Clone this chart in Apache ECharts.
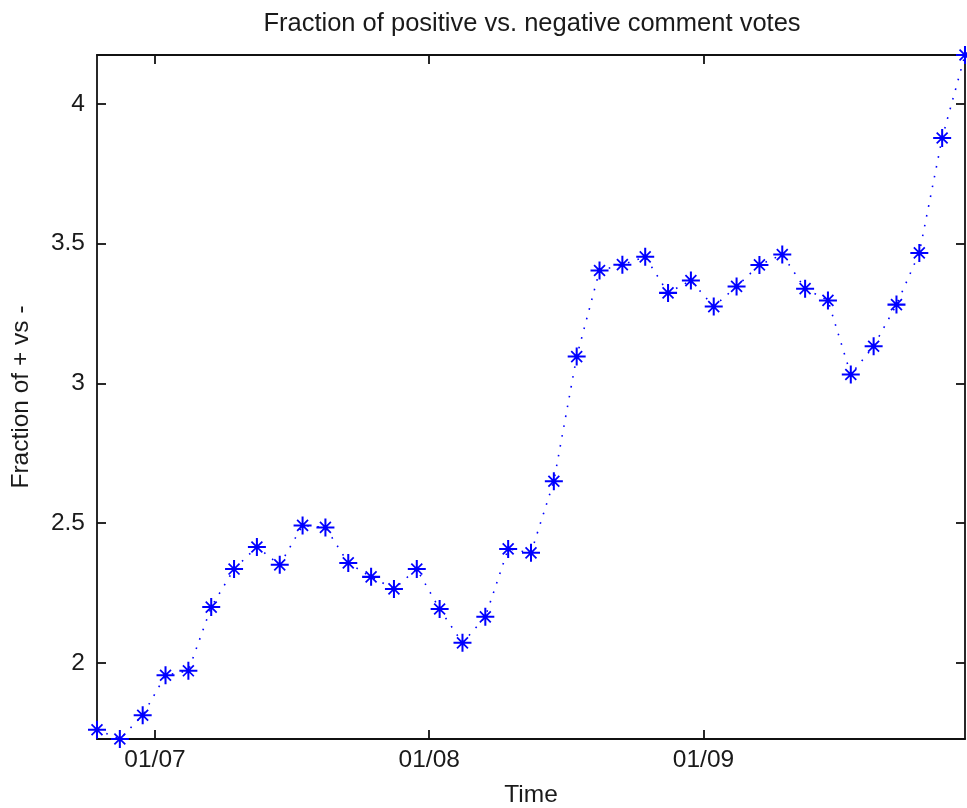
<!DOCTYPE html>
<html>
<head>
<meta charset="utf-8">
<script src="https://cdn.jsdelivr.net/npm/echarts@6/dist/echarts.min.js"></script>
<style>html,body{margin:0;padding:0;background:#fff}#c{width:967px;height:808px}</style>
</head>
<body>
<div id="c"></div>
<script>
// ---- data ----
const sampleTimes = [
  '2009-06-24T10:42', '2009-06-27T00:40', '2009-06-29T14:38', '2009-07-02T04:36', '2009-07-04T18:35',
  '2009-07-07T08:33', '2009-07-09T22:31', '2009-07-12T12:29', '2009-07-15T02:27', '2009-07-17T16:25',
  '2009-07-20T06:23', '2009-07-22T20:21', '2009-07-25T10:19', '2009-07-28T00:17', '2009-07-30T14:15',
  '2009-08-02T04:13', '2009-08-04T18:12', '2009-08-07T08:10', '2009-08-09T22:08', '2009-08-12T12:06',
  '2009-08-15T02:04', '2009-08-17T16:02', '2009-08-20T06:00', '2009-08-22T19:58', '2009-08-25T09:56',
  '2009-08-27T23:54', '2009-08-30T13:52', '2009-09-02T03:50', '2009-09-04T17:48', '2009-09-07T07:47',
  '2009-09-09T21:45', '2009-09-12T11:43', '2009-09-15T01:41', '2009-09-17T15:39', '2009-09-20T05:37',
  '2009-09-22T19:35', '2009-09-25T09:33', '2009-09-27T23:31', '2009-09-30T13:29'
];
const fractionValues = [
  1.761, 1.728, 1.813, 1.956, 1.972,
  2.200, 2.336, 2.415, 2.351, 2.492,
  2.485, 2.358, 2.308, 2.265, 2.336,
  2.193, 2.072, 2.165, 2.408, 2.394,
  2.650, 3.096, 3.404, 3.425, 3.453,
  3.324, 3.368, 3.275, 3.347, 3.424,
  3.461, 3.339, 3.297, 3.032, 3.133,
  3.282, 3.467, 3.878, 4.175
];
const xTickDates = ['2009-07-01T00:00', '2009-08-01T00:00', '2009-09-01T00:00'];
const yTickValues = [2, 2.5, 3, 3.5, 4];

const titleText = 'Fraction of positive vs. negative comment votes';
const xName = 'Time';
const yName = 'Fraction of + vs -';

// ---- build ----
const toMs = s => Date.parse(s + ':00Z');
const seriesData = sampleTimes.map((t, i) => [toMs(t), fractionValues[i]]);
const xTicks = xTickDates.map(toMs);
const xMin = Math.min.apply(null, seriesData.map(d => d[0]));
const xMax = Math.max.apply(null, seriesData.map(d => d[0]));
const yMin = Math.min.apply(null, fractionValues);
const yMax = Math.max.apply(null, fractionValues);
const pad = n => (n < 10 ? '0' : '') + n;
const fmtDate = v => { const d = new Date(v); return pad(d.getUTCDate()) + '/' + pad(d.getUTCMonth() + 1); };

const FONT = 'Liberation Sans';
const TXT = '#1a1a1a';
const asterisk = 'path://M0 7.1L16 7.1L16 8.9L0 8.9Z M7.1 0L8.9 0L8.9 16L7.1 16Z ' +
  'M2.6 3.7L3.7 2.6L13.4 12.3L12.3 13.4Z M12.3 2.6L13.4 3.7L3.7 13.4L2.6 12.3Z';

const axisLine = { show: true, lineStyle: { color: '#111', width: 1.8 } };
const tickStyle = { color: '#111', width: 1.8 };

const chart = echarts.init(document.getElementById('c'), null, { renderer: 'canvas' });
chart.setOption({
  animation: false,
  backgroundColor: '#fff',
  title: {
    text: titleText,
    left: 527, textAlign: 'center', top: 6,
    textStyle: { fontFamily: FONT, fontSize: 25.5, fontWeight: 'normal', color: TXT }
  },
  grid: { left: 97, right: 2, top: 55, bottom: 69, containLabel: false, outerBoundsMode: 'none' },
  xAxis: [{
    type: 'value', min: xMin, max: xMax, position: 'bottom',
    name: xName, nameLocation: 'middle', nameGap: 44,
    nameTextStyle: { fontFamily: FONT, fontSize: 24.5, color: TXT },
    axisLine: axisLine,
    axisTick: { show: true, inside: true, length: 9, lineStyle: tickStyle, customValues: xTicks },
    axisLabel: { show: true, margin: 9, customValues: xTicks, formatter: fmtDate,
      fontFamily: FONT, fontSize: 24.5, color: TXT },
    splitLine: { show: false }
  }, {
    type: 'value', min: xMin, max: xMax, position: 'top',
    axisLine: axisLine,
    axisTick: { show: true, inside: true, length: 9, lineStyle: tickStyle, customValues: xTicks },
    axisLabel: { show: false },
    splitLine: { show: false }
  }],
  yAxis: [{
    type: 'value', min: yMin, max: yMax, position: 'left',
    name: yName, nameLocation: 'middle', nameGap: 63, nameRotate: 90,
    nameTextStyle: { fontFamily: FONT, fontSize: 24.5, color: TXT },
    axisLine: axisLine,
    axisTick: { show: true, inside: true, length: 9, lineStyle: tickStyle, customValues: yTickValues },
    axisLabel: { show: true, margin: 12, customValues: yTickValues, formatter: v => String(v),
      fontFamily: FONT, fontSize: 24.5, color: TXT },
    splitLine: { show: false }
  }, {
    type: 'value', min: yMin, max: yMax, position: 'right',
    axisLine: axisLine,
    axisTick: { show: true, inside: true, length: 9, lineStyle: tickStyle, customValues: yTickValues },
    axisLabel: { show: false },
    splitLine: { show: false }
  }],
  series: [{
    type: 'line',
    xAxisIndex: 0, yAxisIndex: 0,
    data: seriesData,
    clip: false,
    symbol: asterisk,
    symbolSize: 18,
    showAllSymbol: true,
    itemStyle: { color: '#0000ff' },
    lineStyle: { color: '#0000ff', width: 1.6, type: [1.6, 8.4] },
    emphasis: { disabled: true }
  }]
});
</script>
</body>
</html>
